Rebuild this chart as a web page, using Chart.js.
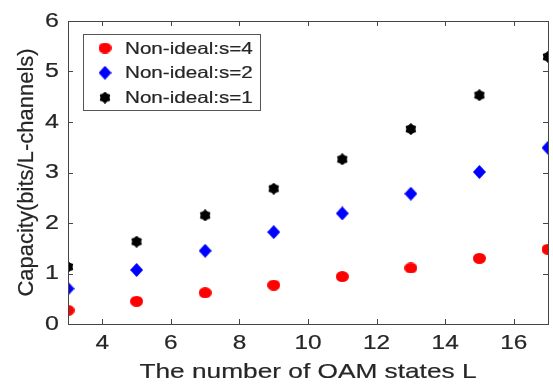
<!DOCTYPE html>
<html>
<head>
<meta charset="utf-8">
<title>Capacity vs OAM states</title>
<script src="https://cdn.jsdelivr.net/npm/chart.js@4.4.1/dist/chart.umd.min.js"></script>
<style>
    html, body { margin: 0; padding: 0; background: #fff; }
    #wrap { width: 553px; height: 388px; }
</style>
</head>
<body>
<div id="wrap"><canvas id="capacityChart" width="553" height="388"></canvas></div>
<script>
// Capacity for each turbulence setting, sampled at odd OAM state counts
const oamStates = [3, 5, 7, 9, 11, 13, 15, 17];
const capS4 = [0.27, 0.45, 0.62, 0.77, 0.94, 1.11, 1.30, 1.48];
const capS2 = [0.70, 1.07, 1.45, 1.82, 2.19, 2.58, 3.01, 3.49];
const capS1 = [1.13, 1.63, 2.15, 2.68, 3.26, 3.86, 4.53, 5.29];
const seriesLabels = ['Non-ideal:s=4', 'Non-ideal:s=2', 'Non-ideal:s=1'];
const xTickValues = [4, 6, 8, 10, 12, 14, 16];
const yTickValues = [0, 1, 2, 3, 4, 5, 6];

const FONT = '"Liberation Sans", Arial, sans-serif';
const AXIS_COLOR = '#454545';
const TEXT_COLOR = '#262626';

// Wide-set lettering: horizontal text is stretched around its anchor;
// rotated text (the y title) is only given the same light outline.
const TEXT_STRETCH = 1.25;
const TEXT_WEIGHT = 0.2;
const baseFillText = CanvasRenderingContext2D.prototype.fillText;
CanvasRenderingContext2D.prototype.fillText = function (text, x, y, maxWidth) {
    const m = this.getTransform();
    this.save();
    this.translate(x, y);
    if (m.b === 0 && m.c === 0) this.scale(TEXT_STRETCH, 1);
    baseFillText.call(this, text, 0, 0);
    this.lineWidth = TEXT_WEIGHT;
    this.strokeStyle = this.fillStyle;
    this.strokeText(text, 0, 0);
    this.restore();
};

// MATLAB-like marker glyphs drawn onto small canvases
function makeMarker(w, h, draw) {
    const c = document.createElement('canvas');
    c.width = w;
    c.height = h;
    const g = c.getContext('2d');
    draw(g, w, h);
    return c;
}

const redDot = makeMarker(13, 11, (g, w, h) => {
    g.fillStyle = '#ff0000';
    g.beginPath();
    g.ellipse(w / 2, h / 2, w / 2, h / 2, 0, 0, Math.PI * 2);
    g.fill();
});

const blueDiamond = makeMarker(13, 14, (g, w, h) => {
    g.fillStyle = '#0000ff';
    g.beginPath();
    g.moveTo(w / 2, 0);
    g.lineTo(w, h / 2);
    g.lineTo(w / 2, h);
    g.lineTo(0, h / 2);
    g.closePath();
    g.fill();
});

const blackHexagram = makeMarker(12, 12, (g, w, h) => {
    g.fillStyle = '#000000';
    g.beginPath();
    for (let k = 0; k < 12; k++) {
        const r = k % 2 === 0 ? 6 : 4.6;
        const a = -Math.PI / 2 + k * Math.PI / 6;
        const px = w / 2 + r * Math.cos(a);
        const py = h / 2 + r * Math.sin(a);
        if (k === 0) g.moveTo(px, py); else g.lineTo(px, py);
    }
    g.closePath();
    g.fill();
});

const markers = [redDot, blueDiamond, blackHexagram];

function toPoints(ys) {
    return oamStates.map((x, i) => ({ x: x, y: ys[i] }));
}

// Box around the plot with inward ticks on all four sides
const boxPlugin = {
    id: 'matlabBox',
    afterDatasetsDraw(chart) {
        const { ctx, chartArea: a, scales } = chart;
        const len = 5;
        ctx.save();
        ctx.strokeStyle = AXIS_COLOR;
        ctx.lineWidth = 1;
        ctx.beginPath();
        scales.x.ticks.forEach(t => {
            const px = Math.round(scales.x.getPixelForValue(t.value)) + 0.5;
            ctx.moveTo(px, a.bottom);
            ctx.lineTo(px, a.bottom - len);
            ctx.moveTo(px, a.top);
            ctx.lineTo(px, a.top + len);
        });
        scales.y.ticks.forEach(t => {
            const py = Math.round(scales.y.getPixelForValue(t.value)) + 0.5;
            ctx.moveTo(a.left, py);
            ctx.lineTo(a.left + len, py);
            ctx.moveTo(a.right, py);
            ctx.lineTo(a.right - len, py);
        });
        ctx.stroke();
        ctx.strokeRect(Math.round(a.left) + 0.5, Math.round(a.top) + 0.5,
            Math.round(a.right - a.left), Math.round(a.bottom - a.top));
        ctx.restore();
    }
};

// Boxed legend in the upper-left corner of the plot
const legendPlugin = {
    id: 'boxLegend',
    afterDraw(chart) {
        const { ctx, chartArea: a } = chart;
        const bx = a.left + 15, by = a.top + 13, bw = 177, bh = 76;
        ctx.save();
        ctx.fillStyle = '#ffffff';
        ctx.fillRect(bx, by, bw, bh);
        ctx.strokeStyle = '#555555';
        ctx.lineWidth = 1;
        ctx.strokeRect(bx + 0.5, by + 0.5, bw, bh);
        ctx.font = '16.5px ' + FONT;
        ctx.fillStyle = TEXT_COLOR;
        ctx.textBaseline = 'middle';
        chart.data.datasets.forEach((ds, i) => {
            const cy = by + 14 + i * 24.8;
            const m = ds.pointStyle;
            ctx.drawImage(m, bx + 22 - m.width / 2, cy - m.height / 2);
            ctx.fillText(ds.label, bx + 42, cy + 1);
        });
        ctx.restore();
    }
};

const ctx = document.getElementById('capacityChart').getContext('2d');
new Chart(ctx, {
    type: 'scatter',
    data: {
        datasets: [capS4, capS2, capS1].map((ys, i) => ({
            label: seriesLabels[i],
            data: toPoints(ys),
            pointStyle: markers[i],
            showLine: false
        }))
    },
    options: {
        responsive: false,
        animation: false,
        devicePixelRatio: 1,
        layout: { padding: { top: 14, right: 2, left: 0, bottom: 0 } },
        plugins: {
            legend: { display: false },
            tooltip: { enabled: false }
        },
        scales: {
            x: {
                type: 'linear',
                min: 3,
                max: 17,
                afterBuildTicks: s => { s.ticks = xTickValues.map(v => ({ value: v })); },
                afterFit: s => { s.height = 64; },
                grid: { display: false, drawTicks: false },
                border: { display: false },
                ticks: {
                    padding: 8,
                    color: TEXT_COLOR,
                    font: { family: FONT, size: 19.5 }
                },
                title: {
                    display: true,
                    text: 'The number of OAM states L',
                    color: TEXT_COLOR,
                    font: { family: FONT, size: 21 },
                    padding: { top: 0, bottom: 3 }
                }
            },
            y: {
                type: 'linear',
                min: 0,
                max: 6,
                afterBuildTicks: s => { s.ticks = yTickValues.map(v => ({ value: v })); },
                afterFit: s => { s.width = 68; },
                grid: { display: false, drawTicks: false },
                border: { display: false },
                ticks: {
                    padding: 9,
                    color: TEXT_COLOR,
                    font: { family: FONT, size: 20 }
                },
                title: {
                    display: true,
                    text: 'Capacity(bits/L-channels)',
                    color: TEXT_COLOR,
                    font: { family: FONT, size: 22 },
                    padding: { top: 14, bottom: 0 }
                }
            }
        }
    },
    plugins: [boxPlugin, legendPlugin]
});
</script>
</body>
</html>
